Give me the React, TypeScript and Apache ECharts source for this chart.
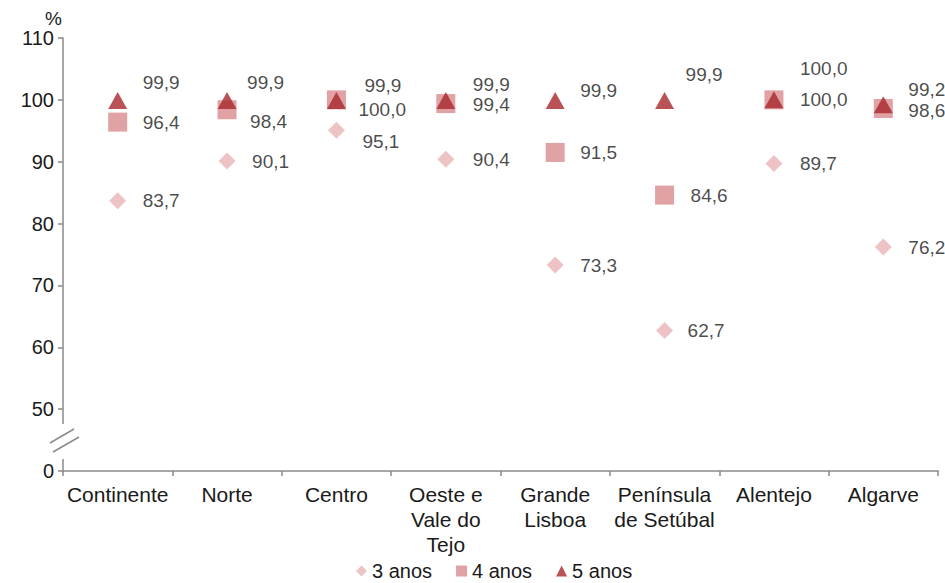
import React, { useEffect, useRef } from "react";
import * as echarts from "echarts";

const categories = [
  "Continente",
  "Norte",
  "Centro",
  "Oeste e\nVale do\nTejo",
  "Grande\nLisboa",
  "Península\nde Setúbal",
  "Alentejo",
  "Algarve",
];
const anos3 = [83.7, 90.1, 95.1, 90.4, 73.3, 62.7, 89.7, 76.2];
const anos4 = [96.4, 98.4, 100.0, 99.4, 91.5, 84.6, 100.0, 98.6];
const anos5 = [99.9, 99.9, 99.9, 99.9, 99.9, 99.9, 100.0, 99.2];
const yTicks = [40, 50, 60, 70, 80, 90, 100, 110];

// label placement (style only): left-edge offset and vertical offset in px
const dx5 = [25, 20, 28, 27, 25, 21, 26, 25];
const dy5 = [-18, -18, -15, -16, -10, -26, -31, -15];
const dx4 = [25, 23, 22, 27, 25, 26, 26, 25];
const dy4 = [0, 12, 10, 1, 0, 0, 0, 2];
const dx3 = [25, 25, 26, 27, 25, 23, 26, 25];
const dy3 = [0, 0, 11, 0, 0, 0, 0, 0];

const FONT = "'Liberation Sans', Arial, sans-serif";
const fmt = (v: number) => v.toFixed(1).replace(".", ",");

function buildData(vals: number[], dx: number[], dy: number[], half: number) {
  return vals.map((v, i) => ({
    value: v,
    label: { offset: [dx[i] - half, dy[i]] },
  }));
}

export default function App() {
  const ref = useRef<HTMLDivElement>(null);
  useEffect(() => {
    if (!ref.current) return;
    const chart = echarts.init(ref.current, undefined, { renderer: "svg" });
    const labelBase = {
      show: true,
      position: "right",
      distance: 0,
      color: "#1a1a1a",
      fontSize: 19,
      lineHeight: 18,
      fontFamily: FONT,
      formatter: (p: any) => fmt(p.value),
    };
    chart.setOption({
      animation: false,
      backgroundColor: "#fff",
      textStyle: { fontFamily: FONT },
      grid: { left: 63, right: 7, top: 38, bottom: 112 },
      legend: {
        top: 556,
        left: 351,
        itemWidth: 11,
        itemHeight: 11,
        itemGap: 24,
        itemTextGap: 4,
        textStyle: { fontSize: 20, color: "#1a1a1a", fontFamily: FONT },
        data: [
          { name: "3 anos", icon: "diamond" },
          { name: "4 anos", icon: "rect" },
          { name: "5 anos", icon: "triangle" },
        ],
      },
      xAxis: {
        type: "category",
        data: categories,
        boundaryGap: true,
        axisLine: { lineStyle: { color: "#8a8a8a", width: 1.5 } },
        axisTick: { show: true, length: 5, lineStyle: { color: "#8a8a8a", width: 1.5 } },
        axisLabel: {
          fontSize: 21,
          lineHeight: 25,
          color: "#1a1a1a",
          fontFamily: FONT,
          margin: 11,
          interval: 0,
        },
      },
      yAxis: {
        type: "value",
        min: yTicks[0],
        max: yTicks[yTicks.length - 1],
        interval: 10,
        splitLine: { show: false },
        axisLine: { show: true, lineStyle: { color: "#8a8a8a", width: 1.5 } },
        axisTick: { show: true, length: 5, lineStyle: { color: "#8a8a8a", width: 1.5 } },
        axisLabel: {
          fontSize: 20,
          color: "#1a1a1a",
          fontFamily: FONT,
          margin: 9,
          formatter: (v: number) => (v === 40 ? "0" : String(v)),
        },
      },
      graphic: [
        { type: "rect", shape: { x: 56, y: 424, width: 14, height: 35 }, style: { fill: "#fff" }, z: 100 },
        { type: "line", shape: { x1: 50, y1: 443, x2: 74, y2: 429 }, style: { stroke: "#8a8a8a", lineWidth: 1.5 }, z: 101 },
        { type: "line", shape: { x1: 53, y1: 452, x2: 79, y2: 437 }, style: { stroke: "#8a8a8a", lineWidth: 1.5 }, z: 101 },
        {
          type: "text",
          x: 45,
          y: 9,
          style: { text: "%", fill: "#1a1a1a", font: `19px ${FONT}` },
          z: 101,
        },
      ],
      series: [
        {
          name: "3 anos",
          type: "scatter",
          symbol: "diamond",
          symbolSize: 17,
          itemStyle: { color: "#e8b4b6" },
          label: labelBase,
          data: buildData(anos3, dx3, dy3, 8.5),
          z: 2,
        },
        {
          name: "4 anos",
          type: "scatter",
          symbol: "rect",
          symbolSize: 19,
          itemStyle: { color: "#d98b8e" },
          label: labelBase,
          data: buildData(anos4, dx4, dy4, 9.5),
          z: 3,
        },
        {
          name: "5 anos",
          type: "scatter",
          symbol: "triangle",
          symbolSize: [19, 17],
          itemStyle: { color: "#a8282c" },
          label: labelBase,
          data: buildData(anos5, dx5, dy5, 9.5),
          z: 4,
        },
      ],
    });
    return () => chart.dispose();
  }, []);
  return <div ref={ref} style={{ width: 945, height: 583, position: "absolute", left: 0, top: 0 }} />;
}
